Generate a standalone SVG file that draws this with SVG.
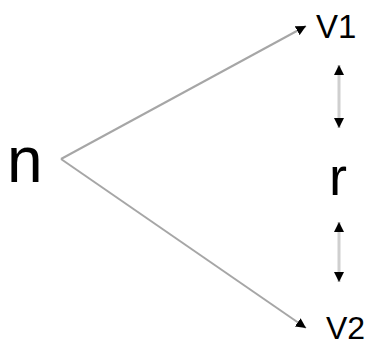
<svg xmlns="http://www.w3.org/2000/svg" width="374" height="347" viewBox="0 0 374 347">
  <style>
    .lbl { font-family: "Liberation Sans", Arial, sans-serif; fill: #000; }
    .edge { stroke: #a6a6a6; stroke-width: 2; fill: none; }
    .dbl { stroke: #cfcfcf; stroke-width: 3; fill: none; }
  </style>
  <defs>
    <marker id="head" viewBox="0 0 10 10" refX="10" refY="5" markerWidth="10" markerHeight="10" markerUnits="userSpaceOnUse" orient="auto-start-reverse">
      <path d="M0,0 L10,5 L0,10 Z" fill="#000"/>
    </marker>
  </defs>
  <rect width="374" height="347" fill="#fff"/>
  <g id="connectors">
    <line class="edge" x1="61" y1="159" x2="306" y2="26" marker-end="url(#head)"/>
    <line class="edge" x1="61" y1="159" x2="306" y2="328" marker-end="url(#head)"/>
    <line class="dbl" x1="339" y1="65" x2="339" y2="128" marker-start="url(#head)" marker-end="url(#head)"/>
    <line class="dbl" x1="339" y1="222" x2="339" y2="282" marker-start="url(#head)" marker-end="url(#head)"/>
  </g>
  <g id="n">
    <text class="lbl" x="7" y="182" font-size="64">n</text>
  </g>
  <g id="v1">
    <text class="lbl" x="316" y="38" font-size="33">V1</text>
  </g>
  <g id="r">
    <text class="lbl" x="329" y="195" font-size="54">r</text>
  </g>
  <g id="v2">
    <text class="lbl" x="326" y="339" font-size="32">V2</text>
  </g>
</svg>
